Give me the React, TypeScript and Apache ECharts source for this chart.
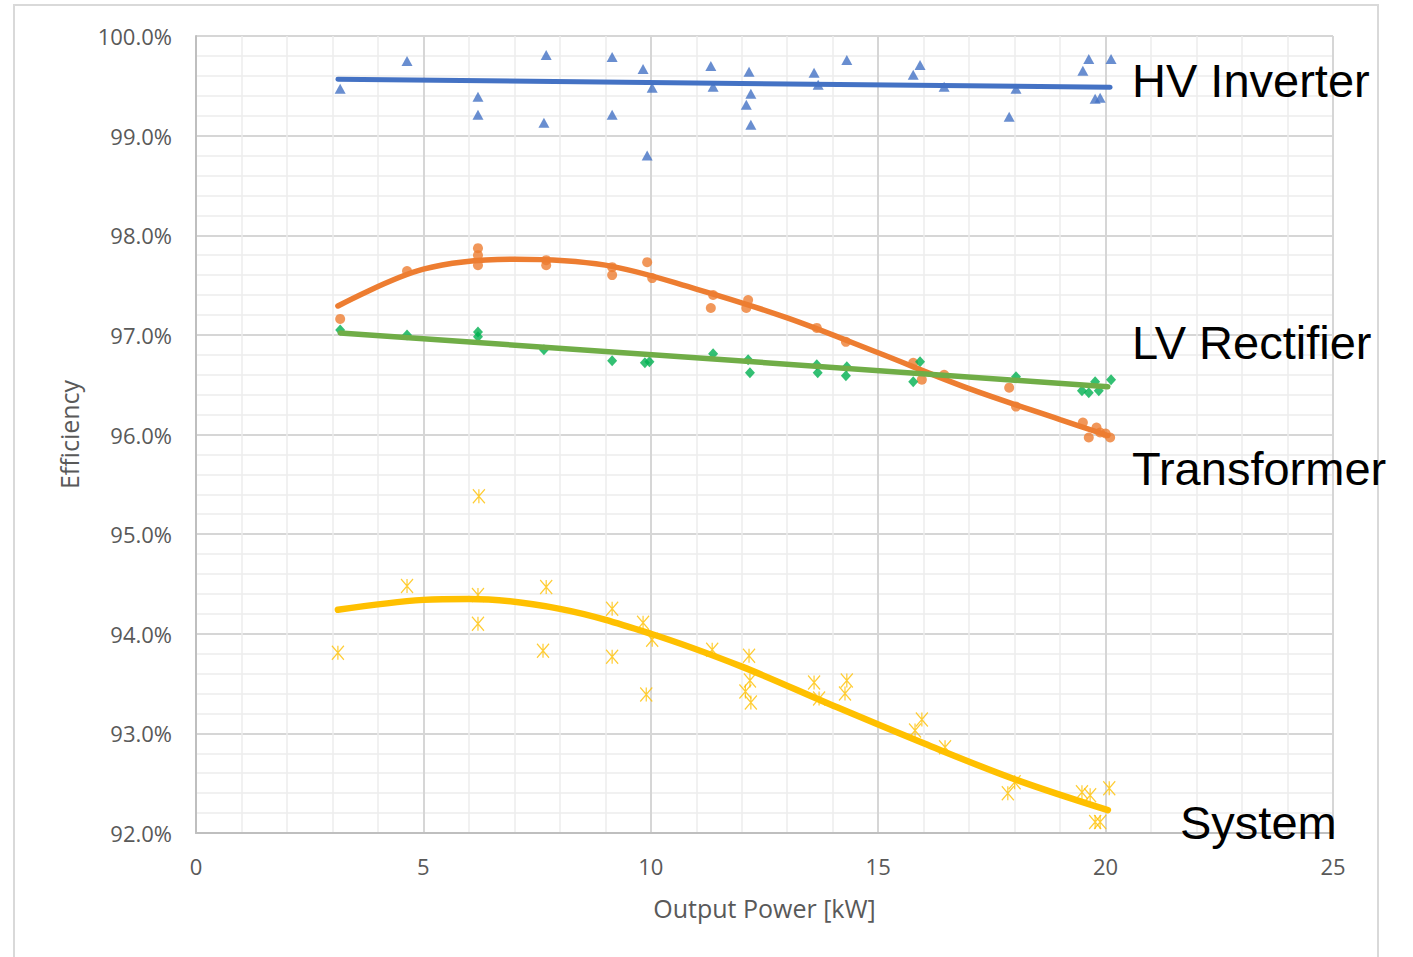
import React, { useEffect, useRef } from "react";
import * as echarts from "echarts";

// HV Inverter (blue triangles)
const hvX = [3.17, 4.64, 6.2, 6.2, 7.7, 7.65, 9.15, 9.15, 9.83, 10.03, 9.92, 11.32, 11.37, 12.16, 12.2, 12.1, 12.2, 13.59, 13.68, 14.31, 15.77, 15.92, 16.45, 17.88, 18.03, 19.5, 19.63, 19.77, 19.88, 20.12];
const hvY = [99.47, 99.75, 99.39, 99.21, 99.81, 99.13, 99.79, 99.21, 99.67, 99.48, 98.8, 99.7, 99.49, 99.64, 99.42, 99.31, 99.11, 99.63, 99.51, 99.76, 99.61, 99.71, 99.49, 99.19, 99.47, 99.65, 99.77, 99.37, 99.38, 99.77];
const hvTrendX = [3.12, 20.1];
const hvTrendY = [99.565, 99.485];

// Transformer (orange circles)
const trX = [3.17, 4.64, 6.2, 6.2, 6.2, 7.7, 7.7, 9.15, 9.15, 9.92, 10.03, 11.32, 11.37, 12.1, 12.14, 13.65, 14.29, 15.77, 15.96, 16.45, 17.88, 18.03, 19.5, 19.63, 19.8, 19.88, 20.0, 20.1];
const trY = [97.16, 97.64, 97.87, 97.8, 97.7, 97.7, 97.75, 97.68, 97.6, 97.73, 97.57, 97.27, 97.4, 97.27, 97.35, 97.07, 96.93, 96.72, 96.55, 96.6, 96.47, 96.28, 96.12, 95.97, 96.07, 96.02, 96.01, 95.97];
const trTrendX = [3.12, 5, 7, 9, 11, 13, 15, 17, 19, 20.05];
const trTrendY = [97.29, 97.66, 97.76, 97.7, 97.46, 97.17, 96.82, 96.46, 96.15, 95.99];

// LV Rectifier (green diamonds)
const lvX = [3.17, 4.64, 6.2, 6.2, 7.65, 9.15, 9.87, 9.97, 11.37, 12.14, 12.18, 13.65, 13.67, 14.31, 14.29, 15.77, 15.92, 18.03, 19.48, 19.63, 19.77, 19.85, 20.12];
const lvY = [97.05, 97.0, 97.03, 96.98, 96.85, 96.74, 96.72, 96.73, 96.81, 96.75, 96.62, 96.7, 96.62, 96.68, 96.59, 96.53, 96.73, 96.58, 96.44, 96.42, 96.53, 96.44, 96.55];
const lvTrendX = [3.17, 20.05];
const lvTrendY = [97.02, 96.48];

// System (yellow asterisks)
const sysX = [3.12, 4.64, 6.22, 6.2, 6.2, 7.7, 7.63, 9.15, 9.15, 9.83, 10.03, 9.9, 11.35, 12.16, 12.18, 12.08, 12.2, 13.59, 13.7, 14.31, 14.27, 15.96, 15.81, 16.47, 18.0, 17.85, 19.48, 19.66, 20.08, 19.77, 19.88];
const sysY = [93.81, 94.48, 95.38, 94.39, 94.1, 94.47, 93.83, 94.25, 93.77, 94.11, 93.94, 93.39, 93.84, 93.78, 93.53, 93.42, 93.31, 93.51, 93.35, 93.53, 93.4, 93.14, 93.03, 92.86, 92.51, 92.4, 92.41, 92.38, 92.45, 92.11, 92.11];
const sysTrendX = [3.12, 5, 6, 8, 10, 12, 14, 16, 18, 20.05];
const sysTrendY = [94.24, 94.34, 94.35, 94.25, 94.0, 93.67, 93.28, 92.9, 92.54, 92.23];

const xTicks = [0, 5, 10, 15, 20, 25];
const seriesLabels = ["HV Inverter", "LV Rectifier", "Transformer", "System"];

const zip = (xs: number[], ys: number[]) => xs.map((x, i) => [x, ys[i]]);

const BLUE = "#4472C4";
const ORANGE = "#ED7D31";
const GREEN_M = "#00B050";
const GREEN_L = "#70AD47";
const YELLOW = "#FFC000";
const TXT = "#595959";
const AXFONT = "'Open Sans', 'Noto Sans', sans-serif";

export default function App() {
  const ref = useRef<HTMLDivElement>(null);
  useEffect(() => {
    if (!ref.current) return;
    const chart = echarts.init(ref.current, undefined, { renderer: "svg" });
    const scatter = (name: string, xs: number[], ys: number[], symbol: string, size: number | number[], color: string, extra: any = {}) => ({
      name,
      type: "scatter",
      data: zip(xs, ys),
      symbol,
      symbolSize: size,
      itemStyle: { color, ...extra },
      z: 2,
    });
    const trend = (name: string, xs: number[], ys: number[], color: string, width: number) => ({
      name,
      type: "line",
      data: zip(xs, ys),
      showSymbol: false,
      symbol: "none",
      smooth: 0.35,
      lineStyle: { color, width, cap: "round" },
      z: 3,
    });
    const labelText = (text: string, x: number, y: number) => ({
      type: "text",
      left: x,
      top: y - 25,
      style: { text, fill: "#000", font: "47px 'Liberation Sans', Arial, sans-serif" },
      z: 10,
    });
    chart.setOption({
      animation: false,
      backgroundColor: "#fff",
      grid: { left: 196, right: 80, top: 36, bottom: 124, containLabel: false },
      xAxis: {
        type: "value",
        min: xTicks[0],
        max: xTicks[xTicks.length - 1],
        interval: 5,
        name: "Output Power [kW]",
        nameLocation: "middle",
        nameGap: 62,
        nameTextStyle: { color: TXT, fontSize: 25, fontFamily: AXFONT },
        axisLine: { show: true, lineStyle: { color: "#bfbfbf", width: 2 } },
        axisTick: { show: false },
        axisLabel: { color: TXT, fontSize: 22, fontFamily: AXFONT, margin: 22 },
        splitLine: { show: true, lineStyle: { color: "#d6d6d6", width: 2 } },
        minorTick: { show: false, splitNumber: 5 },
        minorSplitLine: { show: true, lineStyle: { color: "#ececec", width: 1.5 } },
      },
      yAxis: {
        type: "value",
        min: 92,
        max: 100,
        interval: 1,
        name: "Efficiency",
        nameLocation: "middle",
        nameGap: 115,
        nameRotate: 90,
        nameTextStyle: { color: TXT, fontSize: 25, fontFamily: AXFONT },
        axisLine: { show: true, lineStyle: { color: "#bfbfbf", width: 2 } },
        axisTick: { show: false },
        axisLabel: {
          color: TXT,
          fontSize: 22,
          fontFamily: AXFONT,
          margin: 24,
          formatter: (v: number) => v.toFixed(1) + "%",
        },
        splitLine: { show: true, lineStyle: { color: "#d6d6d6", width: 2 } },
        minorTick: { show: false, splitNumber: 5 },
        minorSplitLine: { show: true, lineStyle: { color: "#ececec", width: 1.5 } },
      },
      series: [
        scatter(seriesLabels[0], hvX, hvY, "triangle", [11, 10], BLUE),
        scatter(seriesLabels[2], trX, trY, "circle", 10, ORANGE),
        scatter(seriesLabels[1], lvX, lvY, "diamond", [10, 11], GREEN_M),
        scatter(seriesLabels[3], sysX, sysY, "path://M0,0L10,10M10,0L0,10M5,0L5,10", [12, 14], "rgba(0,0,0,0)", {
          borderColor: YELLOW,
          borderWidth: 1.3,
        }),
        trend(seriesLabels[0] + " trend", hvTrendX, hvTrendY, BLUE, 5),
        trend(seriesLabels[2] + " trend", trTrendX, trTrendY, ORANGE, 5.5),
        trend(seriesLabels[1] + " trend", lvTrendX, lvTrendY, GREEN_L, 5.5),
        trend(seriesLabels[3] + " trend", sysTrendX, sysTrendY, YELLOW, 6.5),
      ],
      graphic: [
        {
          type: "rect",
          shape: { x: 14, y: 5, width: 1364, height: 970 },
          style: { fill: "none", stroke: "#d9d9d9", lineWidth: 2 },
          z: 0,
          silent: true,
        },
        labelText(seriesLabels[0], 1132, 82),
        labelText(seriesLabels[1], 1132, 344),
        labelText(seriesLabels[2], 1132, 470),
        labelText(seriesLabels[3], 1180, 824),
      ],
    });
    return () => chart.dispose();
  }, []);
  return <div ref={ref} style={{ position: "fixed", left: 0, top: 0, width: 1413, height: 957 }} />;
}
